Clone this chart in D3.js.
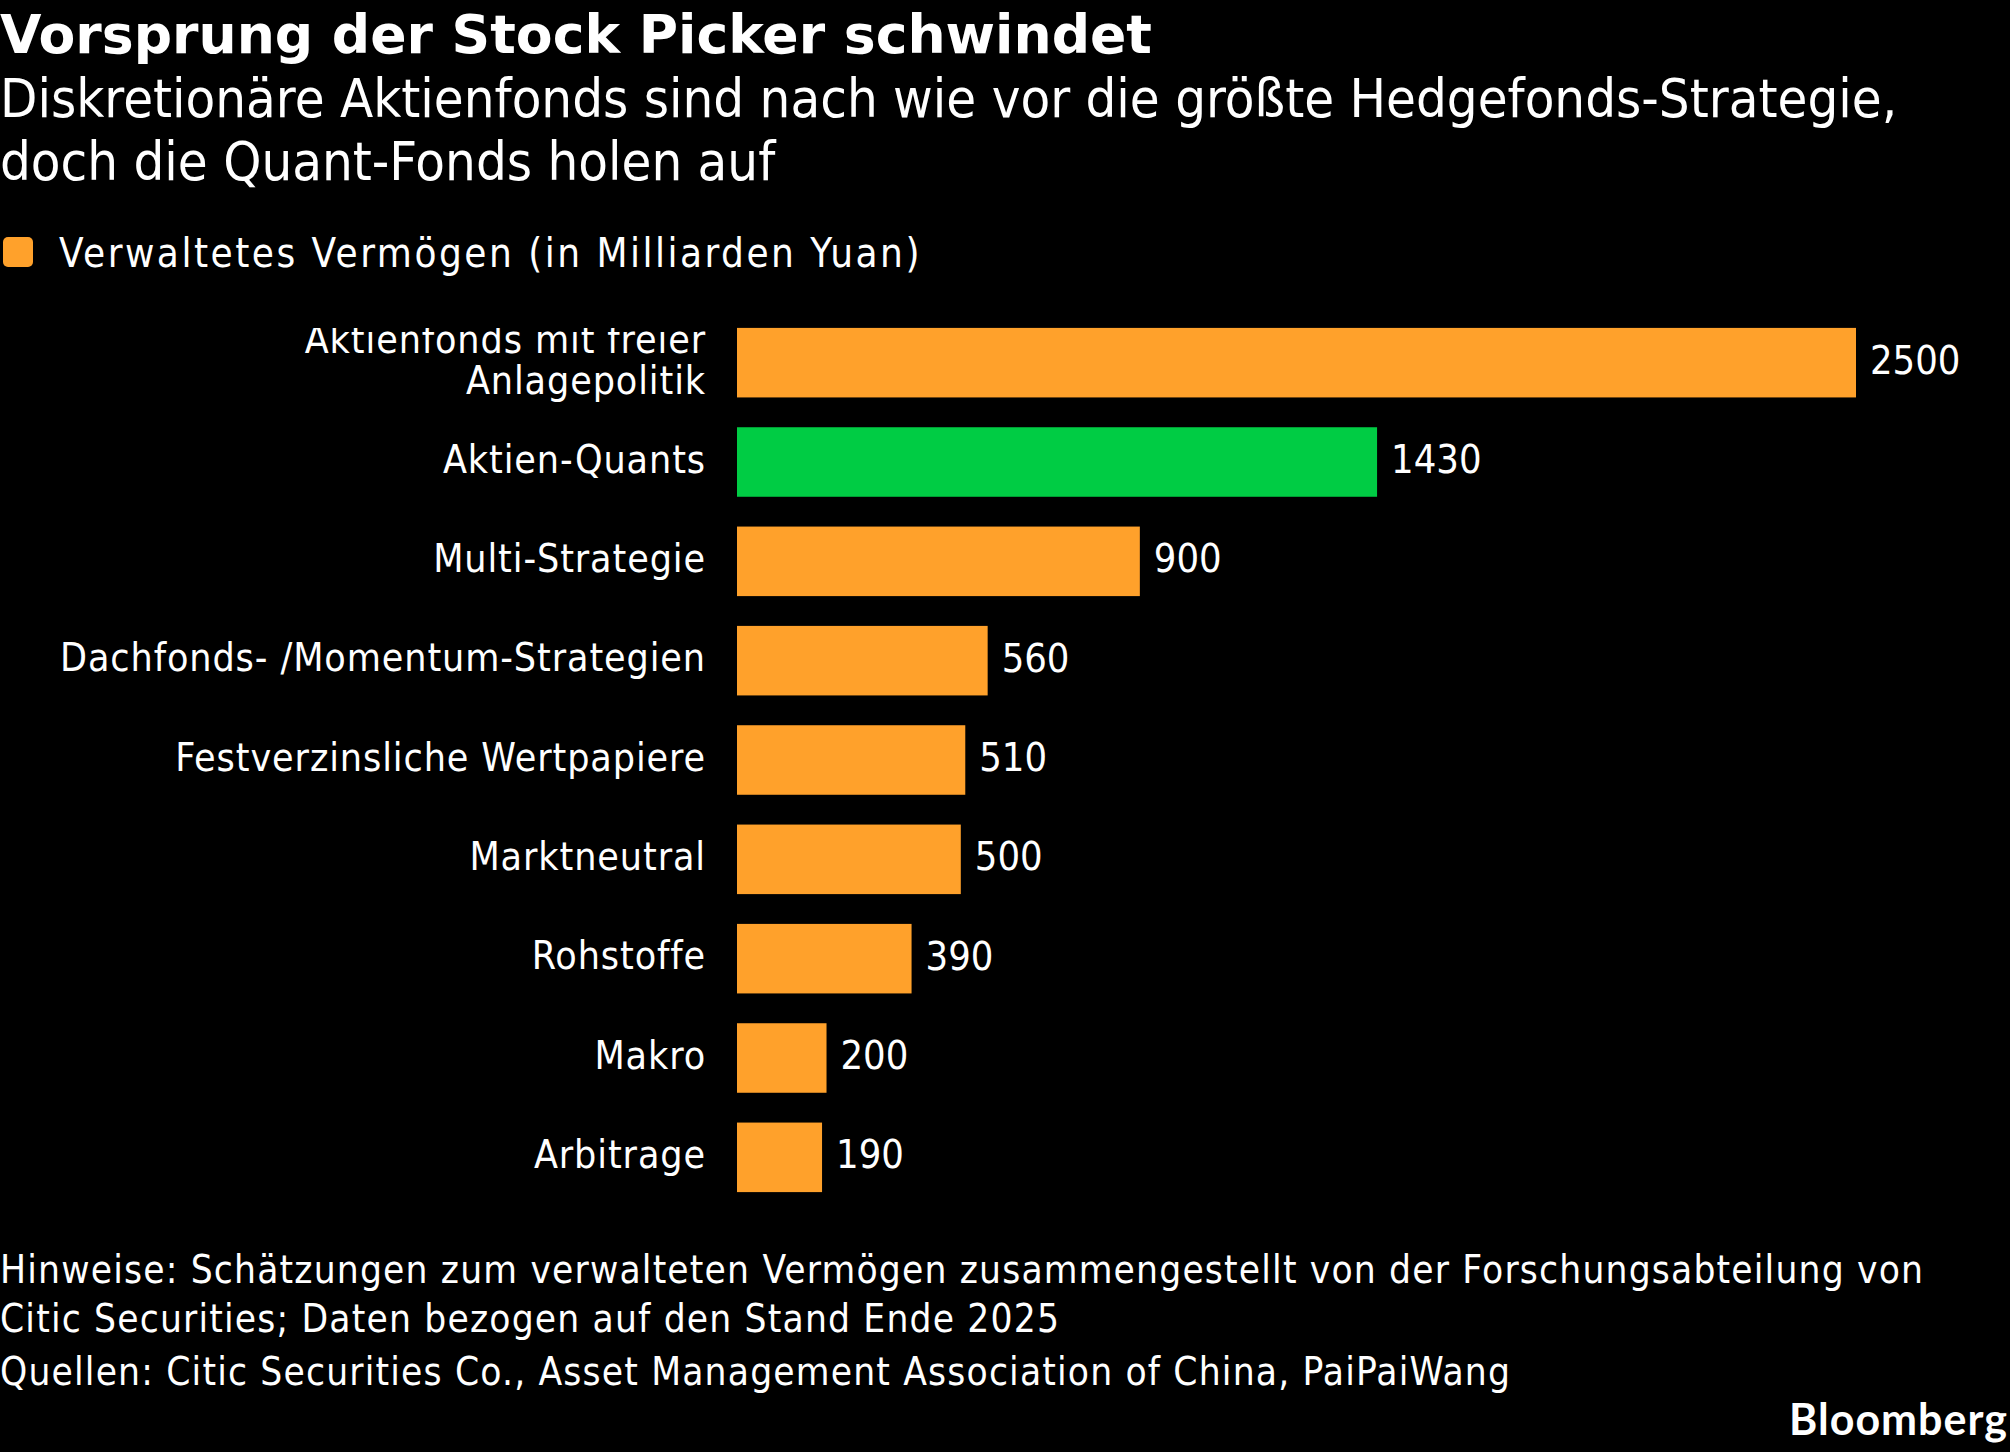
<!DOCTYPE html>
<html>
<head>
<meta charset="utf-8">
<script src="https://cdn.jsdelivr.net/npm/d3@7"></script>
<style>
  body { margin: 0; background: #000; }
  svg text { font-family: "DejaVu Sans Condensed", "DejaVu Sans", sans-serif; fill: #fff; }
</style>
</head>
<body>
<svg id="chart" width="2010" height="1452"></svg>
<script>
/*
 * Horizontal bar chart: hedge fund strategies by assets under management
 */

// ** Data **
const categories = [
	["Aktienfonds mit freier", "Anlagepolitik"],
	["Aktien-Quants"],
	["Multi-Strategie"],
	["Dachfonds- /Momentum-Strategien"],
	["Festverzinsliche Wertpapiere"],
	["Marktneutral"],
	["Rohstoffe"],
	["Makro"],
	["Arbitrage"]
];
const values = [2500, 1430, 900, 560, 510, 500, 390, 200, 190];
const highlight = [false, true, false, false, false, false, false, false, false];

const titleText = "Vorsprung der Stock Picker schwindet";
const subtitleLines = [
	"Diskretionäre Aktienfonds sind nach wie vor die größte Hedgefonds-Strategie,",
	"doch die Quant-Fonds holen auf"
];
const legendText = "Verwaltetes Vermögen (in Milliarden Yuan)";
const footerLines = [
	"Hinweise: Schätzungen zum verwalteten Vermögen zusammengestellt von der Forschungsabteilung von",
	"Citic Securities; Daten bezogen auf den Stand Ende 2025",
	"Quellen: Citic Securities Co., Asset Management Association of China, PaiPaiWang"
];

// ** Constants **
const orange = "#ffa12b";
const green = "#00cc44";
const labelSize = 39;
const labelLineH = 41;

var svg = d3.select("#chart");

// background
svg.append("rect").attr("width", 2010).attr("height", 1452).attr("fill", "#000");

// ** Header **
svg.append("text")
	.attr("x", 0).attr("y", 53)
	.style("font-family", "'DejaVu Sans', sans-serif")
	.style("font-weight", "bold")
	.style("font-size", "53.6px")
	.text(titleText);

svg.selectAll(".subtitle")
	.data(subtitleLines)
	.enter().append("text")
	.attr("class", "subtitle")
	.attr("x", 0)
	.attr("y", (d, i) => 117 + i * 63)
	.style("font-size", "54px")
	.text(d => d);

// legend
svg.append("rect")
	.attr("x", 3).attr("y", 237)
	.attr("width", 30).attr("height", 30)
	.attr("rx", 5)
	.attr("fill", orange);
svg.append("text")
	.attr("x", 59).attr("y", 267)
	.style("font-size", "40px")
	.style("letter-spacing", "2.5px")
	.text(legendText);

// ** Scales **
var x = d3.scaleLinear()
	.domain([0, 2500])
	.range([737, 1856]);

var y = d3.scaleBand()
	.domain(d3.range(values.length))
	.range([313, 1207])
	.paddingInner(0.3)
	.paddingOuter(0.15);

// clip region for the category labels (first label is cut at the top)
svg.append("clipPath").attr("id", "labelClip")
	.append("rect")
	.attr("x", 0).attr("y", y(0))
	.attr("width", 2010).attr("height", 1000);

// ** Bars **
svg.selectAll(".bar")
	.data(values)
	.enter().append("rect")
	.attr("class", "bar")
	.attr("x", x(0))
	.attr("y", (d, i) => y(i))
	.attr("width", d => x(d) - x(0))
	.attr("height", y.bandwidth())
	.attr("fill", (d, i) => highlight[i] ? green : orange);

// value labels
svg.selectAll(".value")
	.data(values)
	.enter().append("text")
	.attr("class", "value")
	.attr("x", d => x(d) + 14)
	.attr("y", (d, i) => y(i) + y.bandwidth() / 2 + 11)
	.style("font-size", "39.5px")
	.text(d => d);

// category labels (may be multi line)
var labels = svg.append("g").attr("clip-path", "url(#labelClip)");
categories.forEach(function(lines, i) {
	let mid = y(i) + y.bandwidth() / 2;
	let first = mid + 10.5 - (lines.length - 1) * labelLineH / 2;
	lines.forEach(function(line, j) {
		labels.append("text")
			.attr("x", 706)
			.attr("y", first + j * labelLineH)
			.attr("text-anchor", "end")
			.style("font-size", labelSize + "px")
			.style("letter-spacing", "0.9px")
			.text(line);
	});
});

// ** Footer **
svg.selectAll(".footer")
	.data(footerLines)
	.enter().append("text")
	.attr("class", "footer")
	.attr("x", 0)
	.attr("y", (d, i) => [1283, 1332, 1385][i])
	.style("font-size", "38.5px")
	.style("letter-spacing", "1.17px")
	.text(d => d);

svg.append("text")
	.attr("x", 2008).attr("y", 1435)
	.attr("text-anchor", "end")
	.style("font-family", "Lato, sans-serif")
	.style("font-weight", "bold")
	.style("font-size", "43px")
	.style("letter-spacing", "1px")
	.text("Bloomberg");
</script>
</body>
</html>
